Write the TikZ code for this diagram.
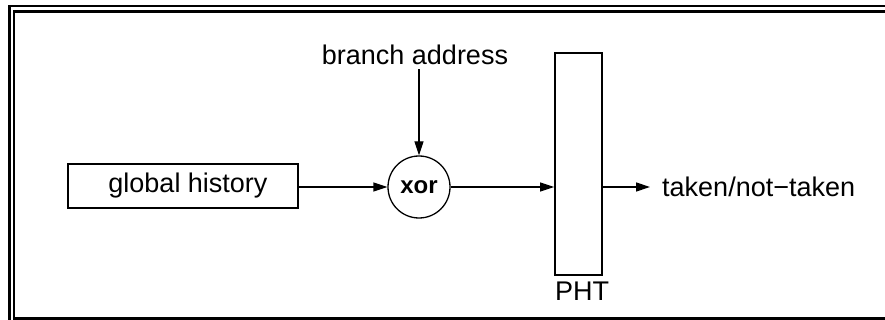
\documentclass[tikz,border=0pt]{standalone}
\usepackage{fontspec}
\setmainfont{Liberation Sans}
\usetikzlibrary{arrows.meta}

\tikzset{
  label text/.style={font=\fontsize{27}{30}\selectfont},
  unit box/.style={draw, line width=1.4pt, inner sep=0pt},
  link/.style={line width=1.3pt, -{Triangle[length=14pt,width=9pt]}}
}

\begin{document}
\begin{tikzpicture}[x=1pt, y=-1pt]
			%%%%% START %%%%%
			\useasboundingbox (0, 0) rectangle (885, 320);
			
			% double frame, cut off at the right and bottom
			\draw[line width=2.4pt] (9.5, 320) -- (9.5, 6) -- (890, 6);
			\draw[line width=2.4pt] (14, 320) -- (14, 11.5) -- (890, 11.5);
			\draw[line width=3pt] (14, 318.5) -- (890, 318.5);
			
			\node[unit box, label text, minimum width=230pt, minimum height=44pt] (global) at (183, 186) {\hspace{10pt}global history};
			\node[draw, circle, line width=1.3pt, minimum size=62pt, inner sep=0pt, font=\fontsize{24}{28}\selectfont\bfseries] (xor) at (419, 187) {xor};
			\node[label text, inner sep=0pt, anchor=base] (branch) at (415, 65) {branch address};
			\node[unit box, line width=1.8pt, minimum width=47pt, minimum height=222pt] (pht) at (578.5, 164) {};
			\node[label text, inner sep=0pt] (phtname) at (582, 291) {PHT};
			\node[label text, inner sep=0pt, anchor=west] (outcome) at (662, 187) {taken/not−taken};
			
			\draw[link] ([yshift=-4pt]branch.south -| xor) -- (xor);
			\draw[link] (global.east |- xor) -- (xor);
			\draw[link] (xor) -- (xor -| pht.west);
			\draw[link] (pht.east |- xor) -- ([xshift=-12pt]outcome.west);
			
			%%%%% END %%%%%
\end{tikzpicture}
\end{document}
